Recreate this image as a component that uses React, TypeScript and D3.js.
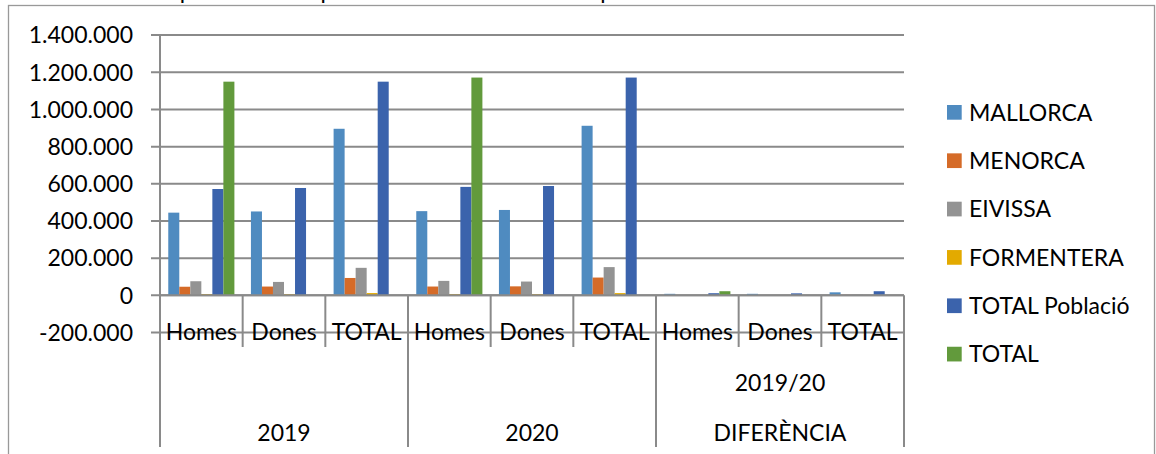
import React from "react";
import * as d3 from "d3";

const title = "Gràfic 1. Comparativa de la població de les Illes Balears per sexe";
const innerCategories = ["Homes", "Dones", "TOTAL", "Homes", "Dones", "TOTAL", "Homes", "Dones", "TOTAL"];
const outerGroups = ["2019", "2020", "DIFERÈNCIA"];
const middleGroups = ["", "", "2019/20"];
const seriesNames = ["MALLORCA", "MENORCA", "EIVISSA", "FORMENTERA", "TOTAL Població", "TOTAL"];
const seriesColors = ["#4f8bc0", "#d56b28", "#939393", "#e3aa00", "#3b63ac", "#629a3c"];

const mallorca = [444800, 451200, 896038, 452900, 459300, 912171, 8100, 8100, 16133];
const menorca = [46200, 47200, 93397, 47300, 48300, 95641, 1100, 1100, 2244];
const eivissa = [75800, 72100, 147914, 77700, 74100, 151827, 1900, 2000, 3913];
const formentera = [6200, 5900, 12111, 6100, 5800, 11904, -100, -100, -207];
const totalPoblacio = [572000, 577460, 1149460, 583400, 588143, 1171543, 11400, 10683, 22083];
const totalGreen: (number | null)[] = [1149460, null, null, 1171543, null, null, 22083, null, null];

const yTicks = [-200000, 0, 200000, 400000, 600000, 800000, 1000000, 1200000, 1400000];

const seriesValues: (number | null)[][] = [mallorca, menorca, eivissa, formentera, totalPoblacio, totalGreen];

const W = 1156;
const H = 454;
const plotLeft = 160;
const plotRight = 904;
const FONT = "Lato, 'Open Sans', sans-serif";
const FS = 23;
const GRID = "#8a8a8a";

const fmt = (v: number) => {
  const s = d3.format(",")(v).replace(/,/g, ".");
  return s.replace("−", "-");
};

export default function App() {
  const y = d3.scaleLinear().domain([-200000, 1400000]).range([332.5, 35.1]);
  const x = d3
    .scaleBand<number>()
    .domain(d3.range(innerCategories.length))
    .range([plotLeft, plotRight])
    .padding(0);
  const step = x.bandwidth();
  const xs = d3
    .scaleBand<number>()
    .domain(d3.range(seriesNames.length))
    .range([0, step])
    .paddingInner(0)
    .paddingOuter(0.75);
  const y0 = y(0);
  const axisBottom = 447;
  const innerDivBottom = 347;

  return (
    <svg
      width={W}
      height={H}
      style={{ position: "absolute", left: 0, top: 0, background: "#fff" }}
      fontFamily={FONT}
    >
      <rect x={0} y={0} width={W} height={H} fill="#fff" />
      {/* title cut at the top */}
      <text x={42} y={-1} fontSize={FS} fill="#000">
        {title}
      </text>
      {/* chart border */}
      <rect x={8.5} y={5.5} width={1146} height={460} fill="none" stroke="#999" strokeWidth={1.3} />

      {/* gridlines + ticks */}
      {yTicks.map((t) => (
        <g key={t}>
          <line x1={151} x2={plotRight} y1={y(t)} y2={y(t)} stroke={GRID} strokeWidth={2} />
          <text
            x={133}
            y={y(t)}
            dy="0.36em"
            textAnchor="end"
            fontSize={FS}
            fill="#000"
          >
            {fmt(t)}
          </text>
        </g>
      ))}
      {/* y axis line */}
      <line x1={plotLeft} x2={plotLeft} y1={y(1400000)} y2={y0} stroke={GRID} strokeWidth={2} />

      {/* bars */}
      {seriesValues.map((vals, si) =>
        vals.map((v, ci) => {
          if (v === null) return null;
          const bx = (x(ci) as number) + (xs(si) as number);
          const top = Math.min(y(v), y0);
          const h = Math.abs(y(v) - y0);
          return (
            <rect
              key={`${si}-${ci}`}
              x={bx}
              y={top}
              width={xs.bandwidth()}
              height={Math.max(h, 0.5)}
              fill={seriesColors[si]}
            />
          );
        })
      )}

      {/* category axis */}
      <line x1={plotLeft} x2={plotRight} y1={y0} y2={y0} stroke={GRID} strokeWidth={2} />
      {d3.range(innerCategories.length + 1).map((k) => {
        const xx = plotLeft + k * step;
        const outer = k % 3 === 0;
        return (
          <line
            key={k}
            x1={xx}
            x2={xx}
            y1={y0}
            y2={outer ? axisBottom : innerDivBottom}
            stroke={GRID}
            strokeWidth={2}
          />
        );
      })}
      {innerCategories.map((c, i) => (
        <text
          key={i}
          x={(x(i) as number) + step / 2}
          y={332}
          dy="0.36em"
          textAnchor="middle"
          fontSize={FS}
          fill="#000"
        >
          {c}
        </text>
      ))}
      {middleGroups.map((g, i) => (
        <text
          key={i}
          x={plotLeft + (i * 3 + 1.5) * step}
          y={383}
          dy="0.36em"
          textAnchor="middle"
          fontSize={FS}
          fill="#000"
        >
          {g}
        </text>
      ))}
      {outerGroups.map((g, i) => (
        <text
          key={i}
          x={plotLeft + (i * 3 + 1.5) * step}
          y={433}
          dy="0.36em"
          textAnchor="middle"
          fontSize={FS}
          fill="#000"
        >
          {g}
        </text>
      ))}

      {/* legend */}
      {seriesNames.map((n, i) => {
        const cy = 112.3 + i * 48.35;
        return (
          <g key={n}>
            <rect x={947} y={cy - 7.3} width={14.7} height={14.7} fill={seriesColors[i]} />
            <text x={969} y={cy} dy="0.36em" fontSize={FS} fill="#000">
              {n}
            </text>
          </g>
        );
      })}
    </svg>
  );
}
